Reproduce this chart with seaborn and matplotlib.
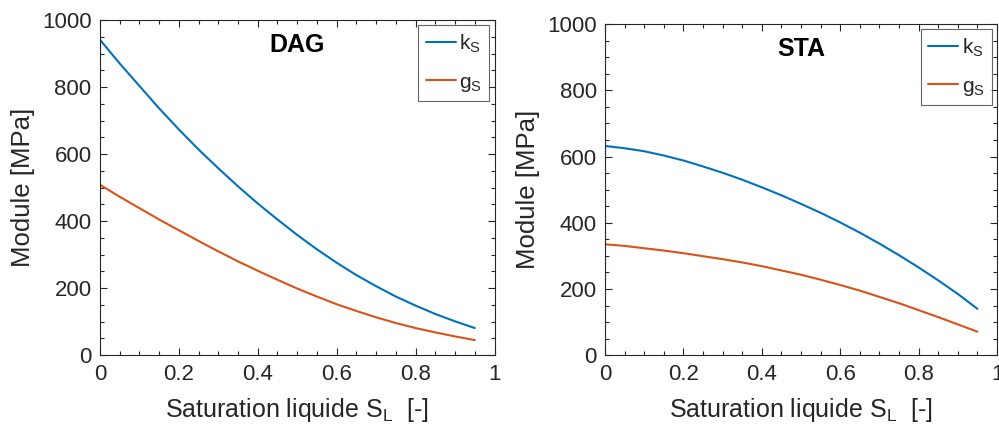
import numpy as np
import pandas as pd
import matplotlib
matplotlib.use("Agg")
import matplotlib.pyplot as plt
import seaborn as sns
from matplotlib.ticker import MultipleLocator

# ---- data ----
sat = [0.00, 0.05, 0.10, 0.15, 0.20, 0.25, 0.30, 0.35, 0.40, 0.45,
       0.50, 0.55, 0.60, 0.65, 0.70, 0.75, 0.80, 0.85, 0.90, 0.95]
dag_k = [942, 871, 804, 737, 674, 614, 558, 504, 453, 405,
         359, 316, 276, 239, 206, 175, 148, 123, 101, 81]
dag_g = [509, 473, 439, 405, 373, 341, 310, 280, 252, 225,
         199, 175, 152, 132, 113, 96, 81, 68, 56, 45]
sta_k = [632, 625, 616, 603, 588, 570, 551, 530, 507, 483,
         457, 430, 401, 370, 337, 302, 265, 226, 185, 140]
sta_g = [335, 330, 323, 316, 308, 299, 290, 280, 269, 256,
         243, 228, 212, 195, 176, 157, 136, 115, 93, 71]
panels = ["DAG", "STA"]
series_labels = [r"$\mathregular{k_S}$", r"$\mathregular{g_S}$"]
x_ticks = [0, 0.2, 0.4, 0.6, 0.8, 1]
x_ticklabels = ["0", "0.2", "0.4", "0.6", "0.8", "1"]
y_ticks = [0, 200, 400, 600, 800, 1000]

sns.set_theme(style="ticks")
plt.rcParams["font.family"] = ["Liberation Sans", "DejaVu Sans"]
plt.rcParams["mathtext.fontset"] = "custom"
plt.rcParams["mathtext.rm"] = "Liberation Sans"

colors = ["#0072BD", "#D95319"]
tc = "#262626"

fig = plt.figure(figsize=(9.99, 4.30), dpi=100)
ax1 = fig.add_axes([0.100, 0.174, 0.395, 0.779])
ax2 = fig.add_axes([0.6056, 0.174, 0.3924, 0.770])

data = {"DAG": (dag_k, dag_g), "STA": (sta_k, sta_g)}

for ax, name in zip([ax1, ax2], panels):
    k, g = data[name]
    df = pd.DataFrame({
        "S": sat * 2,
        "M": list(k) + list(g),
        "serie": [series_labels[0]] * len(sat) + [series_labels[1]] * len(sat),
    })
    sns.lineplot(data=df, x="S", y="M", hue="serie", palette=colors,
                 linewidth=1.5, ax=ax, legend=True)
    ax.set_xlim(0, 1)
    ax.set_ylim(0, 1000)
    ax.set_xticks(x_ticks)
    ax.set_xticklabels(x_ticklabels)
    ax.set_yticks(y_ticks)
    ax.xaxis.set_minor_locator(MultipleLocator(0.05))
    ax.yaxis.set_minor_locator(MultipleLocator(50))
    ax.tick_params(which="both", direction="in", top=True, right=True,
                   colors=tc, labelcolor=tc, width=0.8)
    ax.tick_params(which="major", length=5, labelsize=16, pad=6)
    ax.tick_params(which="minor", length=3)
    for sp in ax.spines.values():
        sp.set_color(tc)
        sp.set_linewidth(0.8)
        sp.set_visible(True)
    ax.set_xlabel(r"Saturation liquide S$\mathregular{_L}$  [-]", fontsize=18, color=tc, labelpad=8)
    ax.set_ylabel("Module [MPa]", fontsize=18.5, color=tc, labelpad=5)
    ax.text(0.5, 0.925, name, transform=ax.transAxes, ha="center", va="center",
            fontsize=18, fontweight="bold", color="black")
    leg = ax.legend(loc="upper right", fontsize=15, frameon=True, fancybox=False,
                    handlelength=1.45, handletextpad=0.15, borderpad=0.35,
                    labelspacing=0.85, borderaxespad=0.25, title=None)
    leg.get_frame().set_edgecolor("#404040")
    leg.get_frame().set_linewidth(0.8)
    for t in leg.get_texts():
        t.set_color(tc)

fig.savefig("out.png", dpi=100)
